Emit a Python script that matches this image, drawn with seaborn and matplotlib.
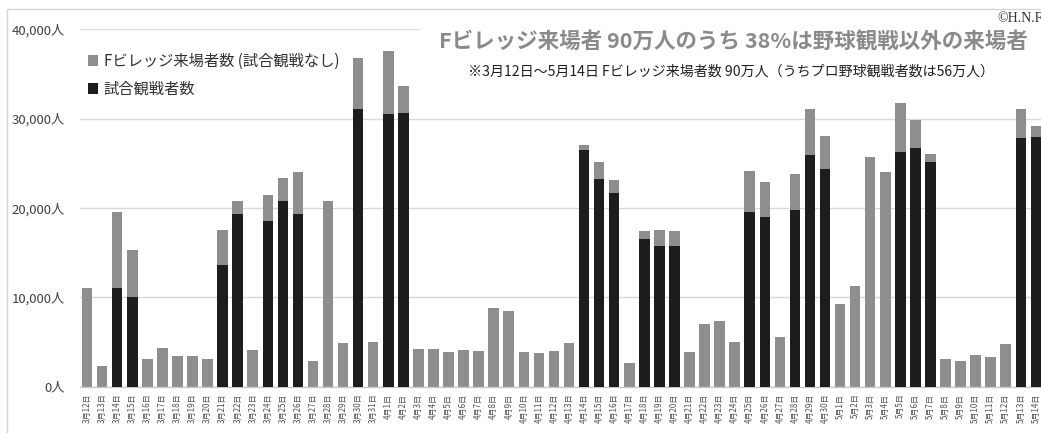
import matplotlib
matplotlib.use("Agg")
import matplotlib.pyplot as plt
from matplotlib.patches import Rectangle
from matplotlib.ticker import FuncFormatter
import seaborn as sns
import pandas as pd

# ---------------- data ----------------
dates = (["3月%d日" % d for d in range(12, 32)]
         + ["4月%d日" % d for d in range(1, 31)]
         + ["5月%d日" % d for d in range(1, 15)])

total_visitors = [11000, 2350, 19540, 15300, 3060, 4360, 3400, 3470, 3060, 17530,
                  20740, 4100, 21480, 23340, 24050, 2840, 20740, 4850, 36800, 5030,
                  37520, 33600, 4250, 4180, 3910, 4100, 3960, 8800, 8430, 3910,
                  3770, 3990, 4920, 27040, 25100, 23120, 2650, 17420, 17560, 17380,
                  3910, 6980, 7310, 5030, 24160, 22860, 5590, 23790, 31060, 28010,
                  9250, 11300, 25660, 24010, 31770, 29800, 26000, 3060, 2870, 3580,
                  3290, 4810, 31060, 29190]

game_attendance = [0, 0, 11000, 10000, 0, 0, 0, 0, 0, 13610,
                   19350, 0, 18500, 20810, 19350, 0, 0, 0, 31060, 0,
                   30540, 30650, 0, 0, 0, 0, 0, 0, 0, 0,
                   0, 0, 0, 26480, 23230, 21630, 0, 16520, 15740, 15740,
                   0, 0, 0, 0, 19540, 19020, 0, 19760, 25920, 24390,
                   0, 0, 0, 0, 26250, 26670, 25130, 0, 0, 0,
                   0, 0, 27820, 27960]

yticks = [0, 10000, 20000, 30000, 40000]

label_nongame = "Fビレッジ来場者数 (試合観戦なし)"
label_game = "試合観戦者数"
title = "Fビレッジ来場者 90万人のうち 38%は野球観戦以外の来場者"
subtitle = "※3月12日～5月14日 Fビレッジ来場者数 90万人（うちプロ野球観戦者数は56万人）"
credit = "©H.N.F"

df = pd.DataFrame({"date": dates, "total": total_visitors, "game": game_attendance})

# ---------------- style ----------------
sns.set_theme(style="white")
plt.rcParams["font.family"] = ["Noto Sans CJK JP", "DejaVu Sans"]

W, H = 1041, 433
fig = plt.figure(figsize=(W / 100, H / 100), dpi=100)
ax = fig.add_axes([80 / W, (H - 386.7) / H, (W - 80) / W, (386.7 - 29.3) / H])

GRAY = "#8e8e8e"
BLACK = "#1d1d1d"

sns.barplot(data=df, x="date", y="total", order=dates, color=GRAY, saturation=1,
            width=0.7, linewidth=0, ax=ax, label=label_nongame, zorder=2)
sns.barplot(data=df, x="date", y="game", order=dates, color=BLACK, saturation=1,
            width=0.7, linewidth=0, ax=ax, label=label_game, zorder=3)

ax.set_ylim(0, 40000)
ax.set_xlim(-0.47, len(dates) - 1 + 0.34)
ax.set_yticks(yticks)
ax.yaxis.set_major_formatter(FuncFormatter(lambda v, p: f"{int(v):,}人"))
ax.set_xlabel("")
ax.set_ylabel("")

ax.grid(axis="y", color="#d9d9d9", linewidth=1.0, zorder=0)
ax.set_axisbelow(True)
for s in ["top", "right", "left"]:
    ax.spines[s].set_visible(False)
ax.spines["bottom"].set_color("#c8c8c8")
ax.spines["bottom"].set_linewidth(1.0)

ax.tick_params(axis="y", length=0, pad=11, labelsize=9.5, labelcolor="#404040")
ax.tick_params(axis="x", length=0, pad=5, labelsize=5.8, labelcolor="#505050",
               labelrotation=90)

# legend
handles, labels = ax.get_legend_handles_labels()
leg = ax.legend(handles, labels, loc="upper left", bbox_to_anchor=(0.0, 0.955),
                frameon=False, fontsize=11, handlelength=0.7, handleheight=0.7,
                handletextpad=0.35, labelspacing=0.7, borderaxespad=0.1,
                labelcolor="#303030")

# outer frame
fig.patches.append(Rectangle((6.7 / W, -0.05), 1.1, (H - 9) / H + 0.05,
                             transform=fig.transFigure, fill=False,
                             edgecolor="#d4d4d4", linewidth=1.0, zorder=0))

# title with white backing box (hides the top gridline)
fig.text(733 / W, (H - 42) / H, title, ha="center", va="center",
         fontsize=15.5, fontweight="bold", color="#8a8a8a",
         bbox=dict(boxstyle="square,pad=0.85", facecolor="white",
                   edgecolor="none"), zorder=5)
fig.text(731 / W, (H - 72) / H, subtitle, ha="center", va="center",
         fontsize=10.1, color="#202020", zorder=6)
fig.text(997 / W, (H - 18) / H, credit, ha="left", va="center",
         fontsize=10, color="#303030", family=["Liberation Serif", "DejaVu Serif"],
         zorder=6)

fig.savefig("out.png", dpi=100)
